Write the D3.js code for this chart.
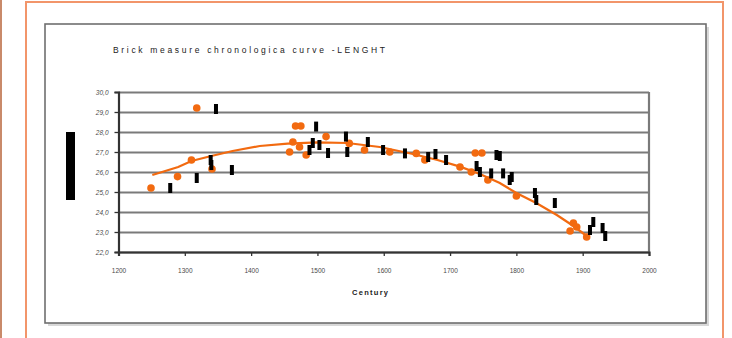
<!DOCTYPE html>
<html><head><meta charset="utf-8">
<script src="https://cdn.jsdelivr.net/npm/d3@7"></script>
<style>
html,body{margin:0;padding:0;background:#fff;}
svg{display:block;}
text{font-family:Arial,"Liberation Sans",sans-serif;}
</style></head>
<body>
<script>
const title = "Brick measure chronologica curve -LENGHT";
const xLabel = "Century";
const xTicks = [1200,1300,1400,1500,1600,1700,1800,1900,2000];
const yTicks = [22,23,24,25,26,27,28,29,30];

// black series: [year, length]
const blackYears = [1278,1318,1339,1340,1347,1371,1488,1493,1498,1503,1516,1543,1545,1576,1599,1632,1667,1678,1694,1740,1745,1762,1770,1775,1780,1790,1793,1828,1830,1858,1911,1916,1930,1934];
const blackVals  = [25.2,25.7,26.6,26.35,29.15,26.1,27.1,27.45,28.27,27.35,26.95,27.77,27.0,27.5,27.1,26.93,26.75,26.9,26.6,26.3,26.0,25.93,26.85,26.8,25.93,25.6,25.75,24.95,24.6,24.45,23.1,23.5,23.2,22.8];

// orange series
const orangeYears = [1249,1289,1310,1318,1341,1458,1463,1467,1475,1473,1483,1513,1548,1571,1609,1649,1662,1715,1732,1738,1748,1757,1800,1881,1886,1891,1906];
const orangeVals  = [25.2,25.77,26.6,29.2,26.15,27.0,27.5,28.3,28.3,27.25,26.85,27.77,27.43,27.1,27.0,26.93,26.6,26.25,26.0,26.95,26.95,25.6,24.8,23.05,23.45,23.25,22.75];

// trend line
const trendYears = [1251,1290,1310,1340,1372,1413,1455,1500,1545,1594,1644,1681,1715,1745,1775,1800,1830,1861,1886,1906];
const trendVals  = [25.85,26.25,26.55,26.8,27.05,27.3,27.42,27.48,27.45,27.25,26.9,26.6,26.27,25.9,25.45,24.95,24.45,23.85,23.3,22.8];

const W = 732, H = 338;
const svg = d3.select("body").append("svg").attr("width", W).attr("height", H);

// outer orange frame
svg.append("rect").attr("x", 0).attr("y", 0).attr("width", 2).attr("height", H).attr("fill", "#c98a6a");
svg.append("rect").attr("x", 26).attr("y", 2).attr("width", 697).attr("height", 345)
  .attr("fill", "#fff").attr("stroke", "#f2956a").attr("stroke-width", 2);

// chart area frame with shadow
svg.append("rect").attr("x", 48).attr("y", 27).attr("width", 661).attr("height", 299).attr("fill", "#d8d8d8");
svg.append("rect").attr("x", 45).attr("y", 24).attr("width", 661).attr("height", 299)
  .attr("fill", "#fff").attr("stroke", "#6f6f6f").attr("stroke-width", 1.6);

const L = 118.5, R = 649, T = 92, B = 252;
const x = d3.scaleLinear().domain([1200, 2000]).range([L, R]);
const y = d3.scaleLinear().domain([22, 30]).range([B, T]);
const fmt = d3.formatLocale({decimal: ",", thousands: ".", grouping: [3], currency: ["", ""]}).format(".1f");

// gridlines
const grid = svg.append("g").attr("transform", `translate(${L},0)`)
  .call(d3.axisLeft(y).tickValues(yTicks).tickSize(-(R - L)).tickFormat(""));
grid.select(".domain").remove();
grid.selectAll("line").attr("stroke", "#7a7a7a").attr("stroke-width", 2);

// right border
svg.append("line").attr("x1", R).attr("x2", R).attr("y1", T).attr("y2", B)
  .attr("stroke", "#7a7a7a").attr("stroke-width", 2.2);

// y axis
const ya = svg.append("g").attr("transform", `translate(${L},0)`)
  .call(d3.axisLeft(y).tickValues(yTicks).tickSize(4).tickPadding(6).tickFormat(fmt));
ya.select(".domain").attr("stroke", "#333").attr("stroke-width", 2.2);
ya.selectAll("line").attr("stroke", "#333").attr("stroke-width", 1.3);
ya.selectAll("text").attr("font-size", 6.5).attr("fill", "#4a4a4a").attr("font-style", "italic");

// x axis
const xa = svg.append("g").attr("transform", `translate(0,${B})`)
  .call(d3.axisBottom(x).tickValues(xTicks).tickSize(4).tickPadding(12).tickFormat(d3.format("d")));
xa.select(".domain").attr("stroke", "#333").attr("stroke-width", 2.2);
xa.selectAll("line").attr("stroke", "#333").attr("stroke-width", 1.3);
xa.selectAll("text").attr("font-size", 6.5).attr("fill", "#4a4a4a");

// title
svg.append("text").attr("x", 113).attr("y", 53).attr("font-size", 8.5).attr("fill", "#222")
  .attr("textLength", 272).attr("lengthAdjust", "spacing").text(title);

// x label
svg.append("text").attr("x", 352).attr("y", 295).attr("font-size", 7.5).attr("fill", "#222")
  .attr("font-weight", "bold").attr("textLength", 36).attr("lengthAdjust", "spacing").text(xLabel);

// black legend bar
svg.append("rect").attr("x", 66).attr("y", 132).attr("width", 9).attr("height", 68).attr("fill", "#000");

// trend line
svg.append("path")
  .datum(trendYears.map((d, i) => [d, trendVals[i]]))
  .attr("fill", "none").attr("stroke", "#f26a10").attr("stroke-width", 2.2)
  .attr("d", d3.line().x(d => x(d[0])).y(d => y(d[1])));

// orange markers
svg.append("g").selectAll("circle")
  .data(orangeYears.map((d, i) => [d, orangeVals[i]]))
  .join("circle")
  .attr("cx", d => x(d[0])).attr("cy", d => y(d[1])).attr("r", 3.8)
  .attr("fill", "#f26a10");

// black markers
svg.append("g").selectAll("rect")
  .data(blackYears.map((d, i) => [d, blackVals[i]]))
  .join("rect")
  .attr("x", d => x(d[0]) - 2).attr("y", d => y(d[1]) - 5)
  .attr("width", 4).attr("height", 10).attr("fill", "#000");
</script>
</body></html>
